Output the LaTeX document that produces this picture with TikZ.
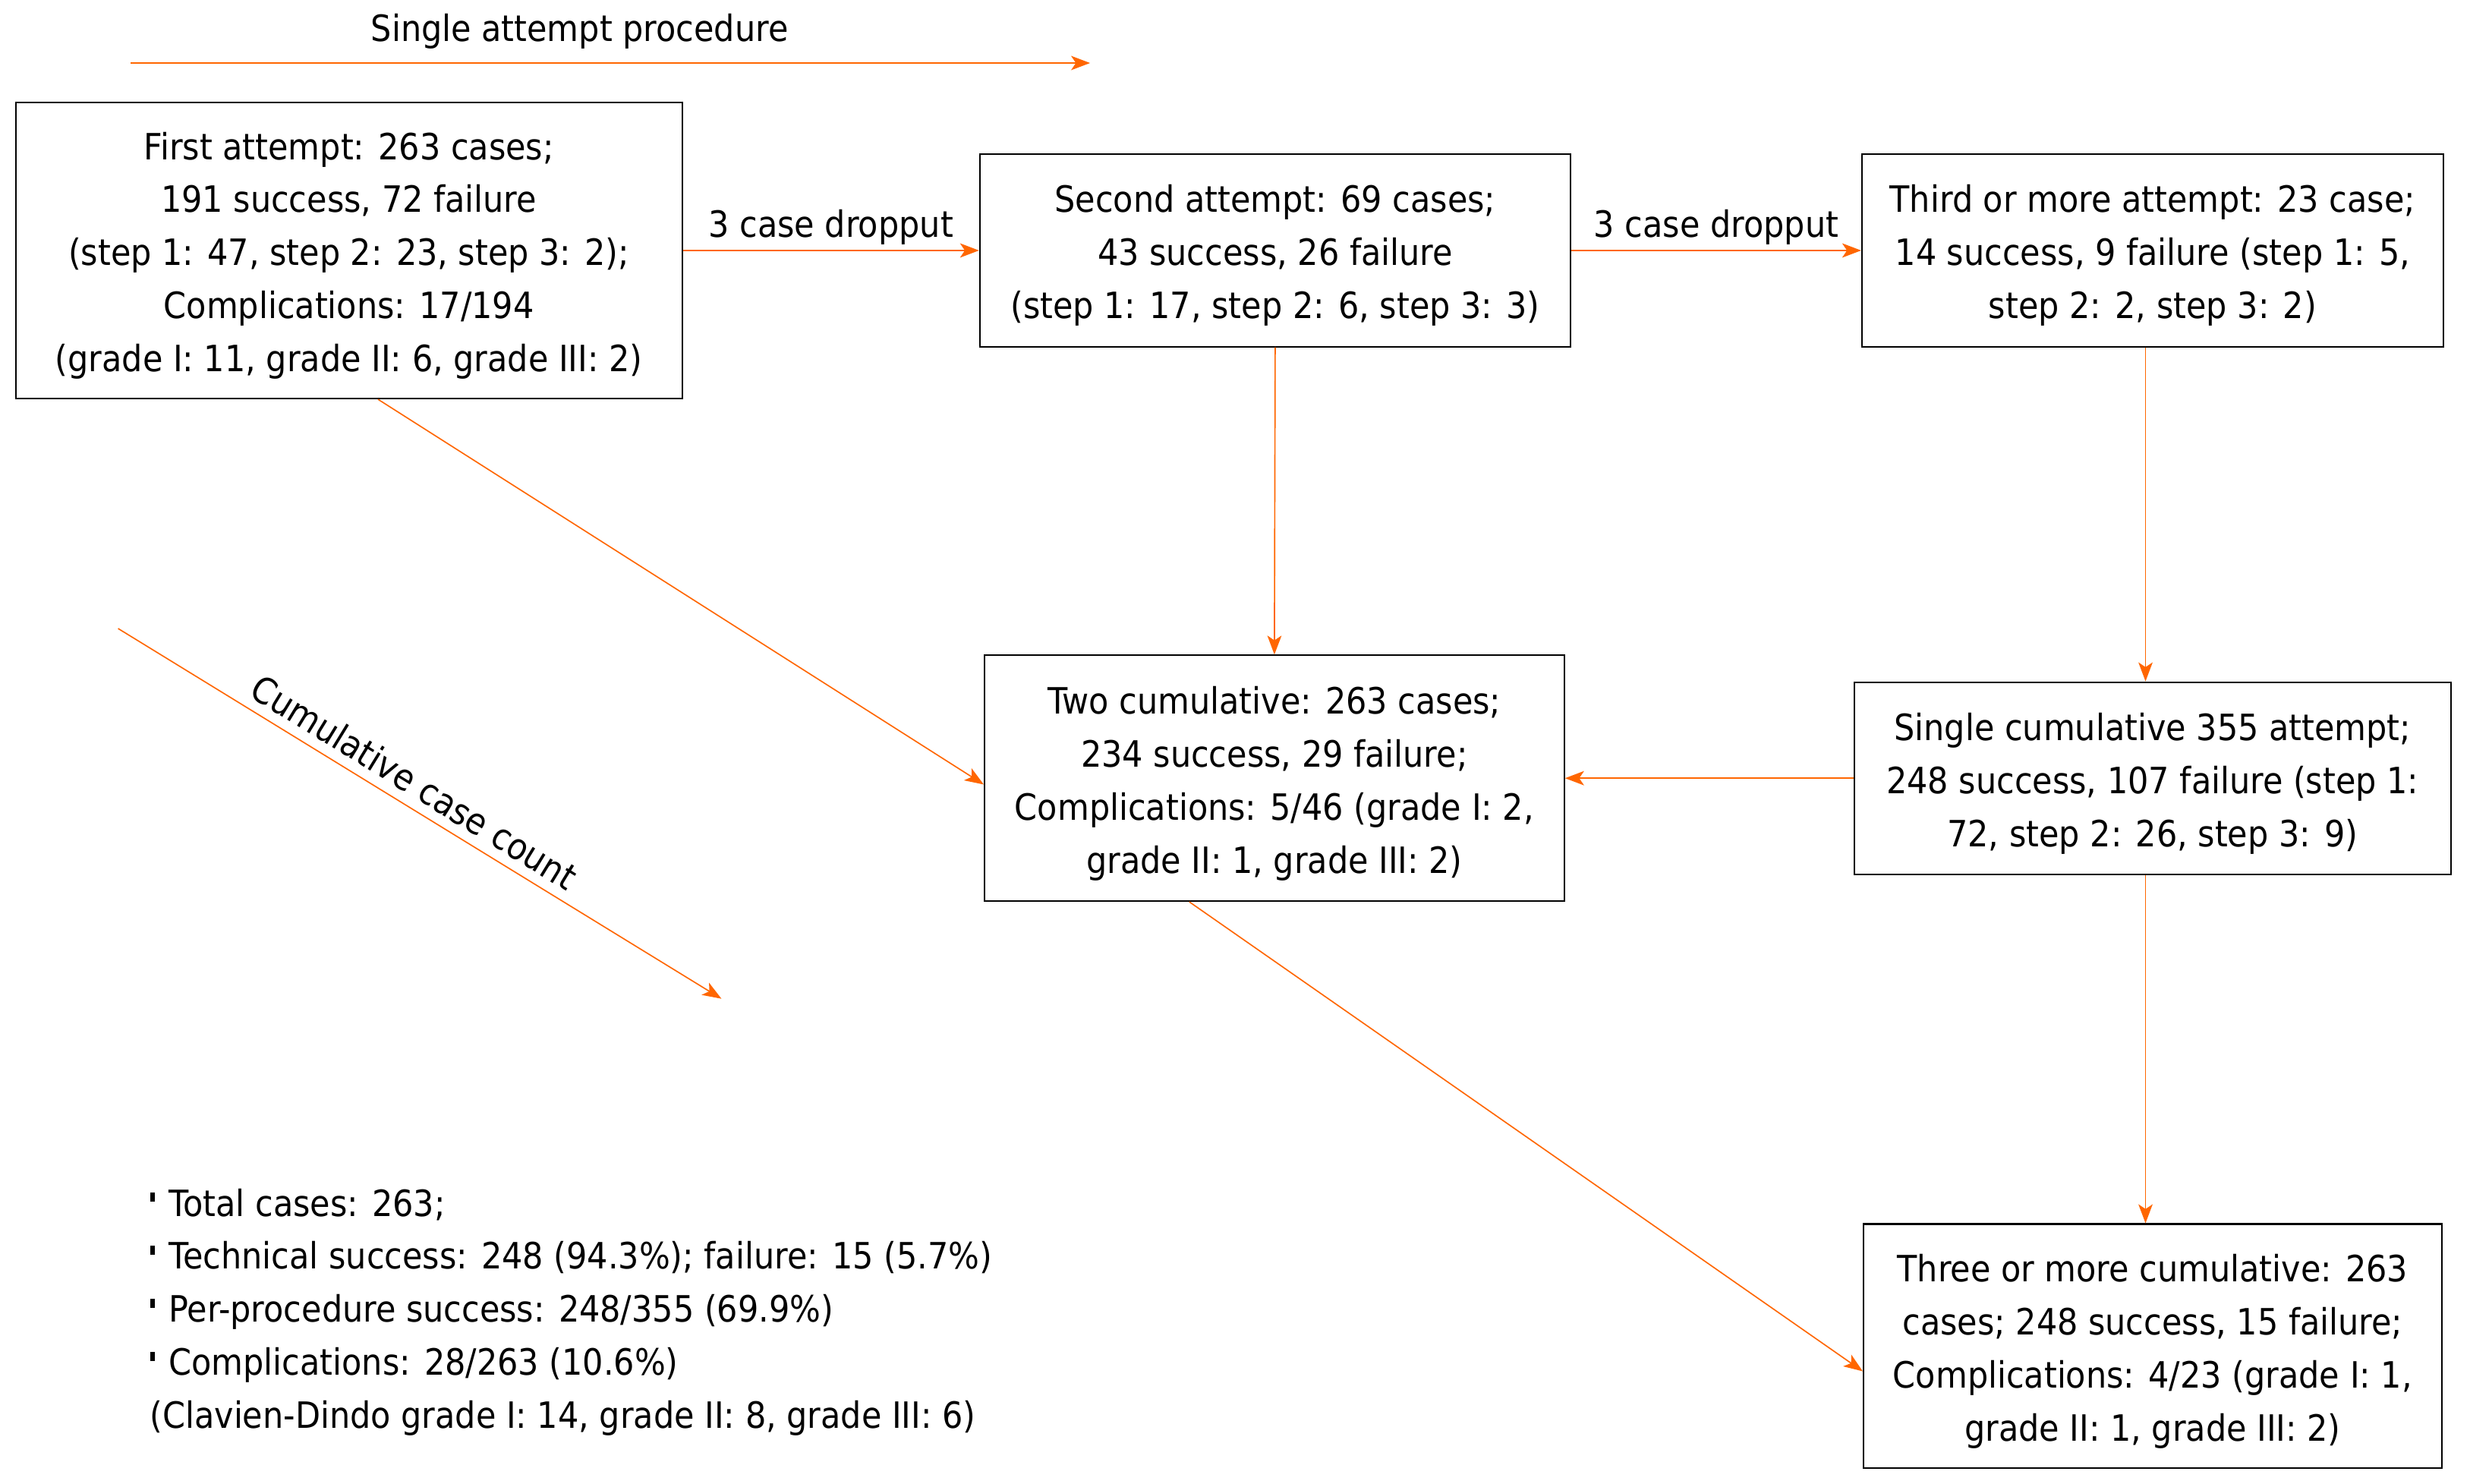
\documentclass[tikz,border=0pt]{standalone}
\usepackage{fontspec}
\setmainfont[FakeStretch=0.9]{DejaVu Sans}
\usetikzlibrary{arrows.meta}
\definecolor{arr}{RGB}{255,102,0}
\newcommand{\st}{\rule{0pt}{24pt}}
\begin{document}
\begin{tikzpicture}[x=1pt,y=-1pt,
  every node/.style={font=\fontsize{23}{33.7}\selectfont},
  box/.style={draw=black,line width=1pt,inner sep=0pt,align=center,fill=white},
  conn/.style={draw=arr,line width=0.8pt,-{Stealth[length=12pt,width=9pt,inset=3pt]}},
  thick conn/.style={conn,line width=1.2pt},
  lbl/.style={inner sep=3pt}]
\useasboundingbox (0,0) rectangle (1568,942);
% boxes
\node[box,minimum width=423pt,minimum height=188pt] (b1) at (221.5,159)
 {\st First attempt: 263 cases;\\191 success, 72 failure\\(step 1: 47, step 2: 23, step 3: 2);\\Complications: 17/194\\(grade I: 11, grade II: 6, grade III: 2)};
\node[box,minimum width=375pt,minimum height=122pt] (b2) at (809.5,159)
 {\st Second attempt: 69 cases;\\43 success, 26 failure\\(step 1: 17, step 2: 6, step 3: 3)};
\node[box,minimum width=369pt,minimum height=122pt] (b3) at (1366.5,159)
 {\st Third or more attempt: 23 case;\\14 success, 9 failure (step 1: 5,\\step 2: 2, step 3: 2)};
\node[box,minimum width=368pt,minimum height=156pt] (b4) at (809,494)
 {\st Two cumulative: 263 cases;\\234 success, 29 failure;\\Complications: 5/46 (grade I: 2,\\grade II: 1, grade III: 2)};
\node[box,minimum width=379pt,minimum height=122pt] (b5) at (1366.5,494)
 {\st Single cumulative 355 attempt;\\248 success, 107 failure (step 1:\\72, step 2: 26, step 3: 9)};
\node[box,minimum width=367pt,minimum height=155pt] (b6) at (1366.5,854.5)
 {\st Three or more cumulative: 263\\cases; 248 success, 15 failure;\\Complications: 4/23 (grade I: 1,\\grade II: 1, grade III: 2)};
% title and legend arrows
\node (title) at (368,20) {Single attempt procedure};
\coordinate (t1) at (83,40);
\coordinate (t2) at (692,40);
\draw[thick conn] (t1) -- (t2);
\coordinate (c1) at (75,399);
\coordinate (c2) at (458,634);
\draw[conn] (c1) -- node[inner sep=6pt,sloped,above,pos=0.47] (cl) {Cumulative case count} (c2);
% connectors
\draw[thick conn] (b1.east) -- node[lbl,above] (d1) {3 case dropput} (b2.west);
\draw[thick conn] (b2.east) -- node[lbl,above] (d2) {3 case dropput} (b3.west);
\draw[conn] (b2.south) -- (b4.north);
\draw[conn] ([xshift=-4.5pt]b3.south) -- ([xshift=-4.5pt]b5.north);
\draw[thick conn] (b5.west) -- (b4.east);
\draw[conn] ([xshift=-4.5pt]b5.south) -- ([xshift=-4.5pt]b6.north);
\draw[conn] ([xshift=18.5pt]b1.south) -- ([yshift=-4pt]b4.west);
\draw[conn] ([xshift=-54pt]b4.south) -- ([yshift=-16pt]b6.west);
% summary
\newcommand{\bul}{\rule[9pt]{3pt}{6pt}\hspace{9pt}}
\node[anchor=west,align=left,inner sep=0pt] (sum) at (95,833)
 {\bul Total cases: 263;\\\bul Technical success: 248 (94.3\%); failure: 15 (5.7\%)\\\bul Per-procedure success: 248/355 (69.9\%)\\\bul Complications: 28/263 (10.6\%)\\(Clavien-Dindo grade I: 14, grade II: 8, grade III: 6)};
\end{tikzpicture}
\end{document}
